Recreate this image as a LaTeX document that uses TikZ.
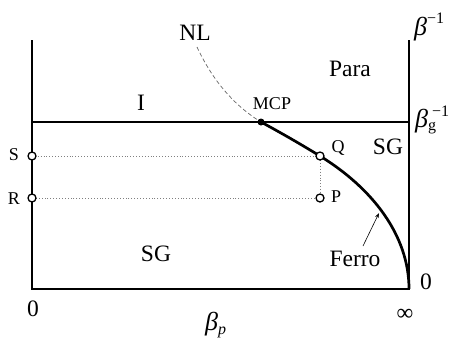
\documentclass[tikz,border=0pt]{standalone}
\usepackage{fontspec}
\setmainfont{Liberation Serif}
\usetikzlibrary{arrows.meta}
\newcommand{\scriptlabel}{\fontsize{16bp}{18bp}\selectfont}
\begin{document}
\begin{tikzpicture}[
    x=1bp,
    y=-1bp,
    big/.style={font=\fontsize{23.5bp}{26bp}\selectfont},
    small/.style={font=\fontsize{18bp}{20bp}\selectfont},
    greek/.style={font=\fontsize{26bp}{28bp}\selectfont, anchor=base west, inner sep=0pt},
    axis/.style={line width=1.2bp},
    phase/.style={line width=2.7bp},
    guide/.style={gray, dotted, line width=0.9bp},
    nlline/.style={gray!80!black, dash pattern=on 4bp off 2.5bp, line width=0.7bp},
    state/.style={circle, draw, line width=1.3bp, minimum size=8bp, inner sep=0pt, fill=white},
    mcpdot/.style={circle, fill, minimum size=7bp, inner sep=0pt}
]
\useasboundingbox (0,0) rectangle (458,338);
\coordinate (origin) at (32,289);
\coordinate (inf) at (409,289);
\coordinate (topleft) at (32,40);
\coordinate (topright) at (409,40);
\coordinate (gleft) at (32,122);
\coordinate (gright) at (409,122);
\coordinate (pmcp) at (261,122);
\coordinate (pS) at (32,156);
\coordinate (pR) at (32,198);
\coordinate (pQ) at (320,156);
\coordinate (pP) at (320,198);
\coordinate (nlend) at (197,47);
\coordinate (ferrotip) at (379,213);
\coordinate (ferrotail) at (363,246);
\draw[axis] (topleft) -- (origin) -- (inf) -- (topright);
\draw[guide] (pS) -- (pQ) -- (pP) -- (pR);
\draw[nlline] (nlend) .. controls (210,75) and (230,103) .. (pmcp);
\draw[phase] (gleft) -- (gright);
\draw[phase] (pmcp) .. controls (285,135) and (305,146.8) .. (pQ)
    .. controls (372,188) and (409,235) .. (inf);
\draw[-{Stealth[length=5bp,width=3.5bp]}, line width=0.6bp] (ferrotail) -- (ferrotip);
\node[mcpdot] (mcp) at (pmcp) {};
\node[state] (S) at (pS) {};
\node[state] (R) at (pR) {};
\node[state] (Q) at (pQ) {};
\node[state] (P) at (pP) {};
\node[big] (nl) at (195,33) {NL};
\node[big] (para) at (350,69) {Para};
\node[big] (iphase) at (141,103) {I};
\node[small] (mcplabel) at (272,104) {MCP};
\node[big] (sgtop) at (388,147) {SG};
\node[big] (sgbottom) at (156,254) {SG};
\node[big] (ferro) at (355,259) {Ferro};
\node[small] (qlabel) at (338,148) {Q};
\node[small] (plabel) at (336,197) {P};
\node[small] (slabel) at (14,155) {S};
\node[small] (rlabel) at (14,199) {R};
\node[big] (zeroright) at (426,282) {0};
\node[big] (zerobottom) at (33,309) {0};
\node[big] (infty) at (405,315) {∞};
\node[greek] (betap) at (205,330)
    {{\itshape β}\raisebox{-4bp}{\scriptlabel\itshape p}};
\node[greek] (betainv) at (414,35)
    {{\itshape β}\raisebox{12bp}{\scriptlabel −1}};
\node[greek] (betag) at (415,127)
    {{\itshape β}\rlap{\hspace{4bp}\raisebox{11bp}{\scriptlabel −1}}\raisebox{-3bp}{\scriptlabel g}};
\end{tikzpicture}
\end{document}
